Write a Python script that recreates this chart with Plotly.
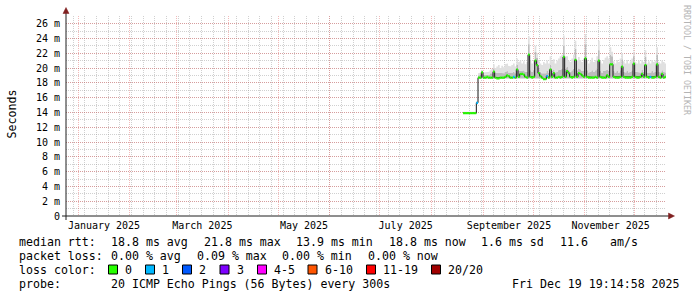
import plotly.graph_objects as go
import pandas as pd

# ---------------- data ----------------
first_day = "2025-08-20"   # one value per day, Aug 20 .. Dec 19 2025

median_ms = [
    13.9, 13.9, 13.9, 13.9, 13.9, 13.9, 13.9, 13.9,
    15.3, 18.7, 18.7, 19.4, 18.7, 18.7, 18.8, 18.7, 18.7, 18.7,
    19.5, 18.7, 18.6, 18.6, 18.7, 18.7, 18.7, 18.8, 19.0, 18.9,
    18.7, 18.7, 18.8, 18.7, 19.8, 18.8, 19.2, 19.2, 19.1, 18.8,
    18.7, 21.8, 18.8, 18.7, 18.8, 21.0, 20.4, 19.3, 18.9, 18.7,
    18.5, 18.5, 18.9, 18.7, 19.8, 18.8, 19.3, 18.7, 18.7, 18.8,
    18.7, 18.8, 21.5, 18.8, 19.6, 19.3, 18.8, 18.7, 18.8, 21.1,
    18.8, 19.3, 19.2, 19.0, 18.8, 21.3, 18.8, 18.7, 18.7, 18.7,
    18.7, 18.8, 18.7, 21.0, 18.8, 18.7, 18.7, 18.7, 19.0, 18.8,
    20.5, 20.5, 18.8, 18.7, 18.7, 18.7, 18.8, 20.2, 18.8, 18.7,
    18.7, 18.7, 18.7, 18.8, 20.6, 18.8, 18.7, 18.7, 18.8, 19.2,
    18.8, 20.4, 18.8, 18.7, 18.8, 18.7, 18.7, 18.8, 20.5, 18.8,
    18.7, 19.2, 18.7, 18.8,
]

lost_pings = [
    0, 0, 0, 0, 0, 0, 0, 0,
    1, 0, 0, 0, 0, 0, 0, 0, 0, 0,
    0, 0, 0, 0, 0, 0, 0, 0, 0, 0,
    0, 0, 1, 0, 0, 0, 0, 0, 0, 0,
    0, 0, 0, 0, 0, 0, 0, 0, 0, 0,
    0, 0, 1, 0, 0, 0, 0, 0, 0, 0,
    0, 0, 0, 0, 0, 0, 0, 0, 0, 0,
    0, 0, 0, 0, 0, 0, 0, 0, 0, 0,
    0, 0, 0, 0, 0, 0, 0, 0, 0, 0,
    0, 0, 0, 0, 0, 0, 0, 0, 0, 0,
    0, 0, 0, 0, 0, 0, 0, 0, 0, 0,
    0, 0, 0, 0, 1, 0, 0, 0, 0, 0,
    0, 0, 0, 0,
]

smoke_lo = [
    13.8, 13.8, 13.8, 13.8, 13.8, 13.8, 13.8, 13.8,
    15.1, 18.6, 18.6, 18.6, 18.6, 18.6, 18.6, 18.6, 18.6, 18.6,
    18.6, 18.6, 18.5, 18.5, 18.6, 18.6, 18.6, 18.6, 18.6, 18.6,
    18.6, 18.6, 18.6, 18.6, 18.6, 18.6, 18.6, 18.6, 18.6, 18.6,
    18.6, 18.6, 18.6, 18.6, 18.6, 18.6, 18.6, 18.6, 18.6, 18.6,
    18.4, 18.4, 18.6, 18.6, 18.6, 18.6, 18.6, 18.6, 18.6, 18.6,
    18.6, 18.6, 18.6, 18.6, 18.6, 18.6, 18.6, 18.6, 18.6, 18.6,
    18.6, 18.6, 18.6, 18.6, 18.6, 18.6, 18.6, 18.6, 18.6, 18.6,
    18.6, 18.6, 18.6, 18.6, 18.6, 18.6, 18.6, 18.6, 18.6, 18.6,
    18.6, 18.6, 18.6, 18.6, 18.6, 18.6, 18.6, 18.6, 18.6, 18.6,
    18.6, 18.6, 18.6, 18.6, 18.6, 18.6, 18.6, 18.6, 18.6, 18.6,
    18.6, 18.6, 18.6, 18.6, 18.6, 18.6, 18.6, 18.6, 18.6, 18.6,
    18.6, 18.6, 18.6, 18.6,
]

smoke_mid = [
    14.0, 14.0, 14.0, 14.0, 14.0, 14.0, 14.0, 14.0,
    15.4, 19.0, 19.1, 19.6, 19.1, 19.2, 19.2, 19.1, 19.3, 19.3,
    19.9, 19.4, 19.3, 19.4, 19.3, 19.4, 19.3, 19.5, 19.6, 19.4,
    19.3, 19.4, 19.5, 19.3, 20.4, 19.6, 19.7, 19.6, 19.7, 19.5,
    19.5, 23.2, 19.7, 19.5, 19.7, 22.2, 21.4, 20.0, 19.5, 19.3,
    19.4, 19.3, 19.6, 19.4, 20.4, 19.6, 19.8, 19.4, 19.5, 19.7,
    19.8, 19.9, 23.0, 19.9, 20.2, 19.8, 19.5, 19.7, 19.9, 22.6,
    19.7, 19.9, 19.8, 19.6, 19.7, 23.2, 19.7, 19.4, 19.5, 19.7,
    19.5, 19.7, 19.9, 22.4, 19.6, 19.4, 19.6, 19.7, 19.8, 19.6,
    21.8, 21.6, 19.6, 19.4, 19.6, 19.4, 19.7, 21.2, 19.5, 19.4,
    19.6, 19.4, 19.5, 19.7, 21.6, 19.5, 19.4, 19.5, 19.4, 19.8,
    19.5, 21.5, 19.4, 19.5, 19.4, 19.6, 19.4, 19.5, 21.8, 19.5,
    19.4, 19.7, 19.5, 19.4,
]

smoke_hi = [
    14.1, 14.1, 14.1, 14.1, 14.1, 14.1, 14.1, 14.1,
    15.5, 19.3, 19.4, 19.7, 19.4, 19.5, 19.5, 19.5, 19.7, 19.9,
    20.5, 20.0, 20.2, 20.4, 20.0, 20.3, 20.1, 20.5, 20.6, 20.3,
    20.2, 20.4, 20.6, 20.2, 21.3, 20.8, 21.0, 20.6, 20.9, 20.5,
    20.8, 24.3, 21.0, 20.6, 21.0, 23.0, 22.0, 21.0, 20.6, 20.4,
    20.8, 20.6, 21.0, 20.6, 21.6, 20.9, 21.2, 20.6, 21.0, 21.3,
    21.6, 21.8, 24.4, 21.6, 21.6, 21.0, 20.8, 21.3, 21.8, 23.7,
    21.0, 21.5, 21.1, 20.8, 21.3, 24.6, 21.1, 20.6, 20.9, 21.4,
    20.8, 21.1, 21.6, 23.7, 20.9, 20.6, 21.1, 21.4, 21.6, 21.3,
    22.8, 22.2, 20.9, 20.6, 21.1, 20.8, 21.3, 22.0, 20.9, 20.6,
    21.1, 20.6, 20.9, 21.3, 22.2, 20.8, 20.6, 21.0, 20.6, 21.1,
    20.8, 22.4, 20.6, 20.9, 20.6, 21.1, 20.8, 21.0, 22.8, 20.8,
    20.6, 21.0, 20.8, 20.6,
]

loss_classes = [(0, 0, "0", "#26ff00"), (1, 1, "1", "#00b8ff"), (2, 2, "2", "#0059ff"),
                (3, 3, "3", "#7e00ff"), (4, 5, "4-5", "#ff00ff"), (6, 10, "6-10", "#ff5500"),
                (11, 19, "11-19", "#ff0000"), (20, 20, "20/20", "#a10000")]

month_starts = ["2025-%02d-01" % m for m in range(1, 13)]
month_labels = ["January 2025", "", "March 2025", "", "May 2025", "", "July 2025", "",
                "September 2025", "", "November 2025", ""]
y_ticks = [0, 2, 4, 6, 8, 10, 12, 14, 16, 18, 20, 22, 24, 26]
y_ticktext = ["0"] + ["%d m" % v for v in y_ticks[1:]]

view_start = "2024-12-24 19:15"
view_end = "2025-12-19 19:15"
y_top = 27.03

legend_rows = [
    ["median rtt:", "18.8 ms avg", "21.8 ms max", "13.9 ms min", "18.8 ms now",
     "1.6 ms sd", "11.6", "am/s"],
    ["packet loss:", "0.00 % avg", "0.09 % max", "0.00 % min", "0.00 % now"],
]
probe_text = "20 ICMP Echo Pings (56 Bytes) every 300s"
stamp_text = "Fri Dec 19 19:14:58 2025"

# ---------------- layout geometry (pixels) ----------------
W, H = 697, 297
L, T, PW, PH = 66, 16, 600, 200
MONO = "DejaVu Sans Mono"


def px(x):
    return (x - L) / PW


def py(y):
    return (T + PH - y) / PH


days = list(pd.date_range(first_day, periods=len(median_ms), freq="D"))
one_day = pd.Timedelta(days=1)


def steps(vals):
    xs, ys = [], []
    for t, v in zip(days, vals):
        xs += [t, t + one_day]
        ys += [v, v]
    return xs, ys


fig = go.Figure()

xl, yl = steps(smoke_lo)
xm, ym = steps(smoke_mid)
xh, yh = steps(smoke_hi)
fig.add_trace(go.Scatter(x=xl, y=yl, mode="lines", line=dict(width=0),
                         hoverinfo="skip", showlegend=False))
fig.add_trace(go.Scatter(x=xm, y=ym, mode="lines", line=dict(width=0), fill="tonexty",
                         fillcolor="#bcbcbc", hoverinfo="skip", showlegend=False))
fig.add_trace(go.Scatter(x=xh, y=yh, mode="lines", line=dict(width=0), fill="tonexty",
                         fillcolor="#e0e0e0", hoverinfo="skip", showlegend=False))

xmed, ymed = steps(median_ms)
fig.add_trace(go.Scatter(x=xmed, y=ymed, mode="lines", line=dict(width=1, color="#161616"),
                         hoverinfo="skip", showlegend=False))

for lo, hi, name, col in loss_classes:
    sx, sy = [], []
    for t, v, ls in zip(days, median_ms, lost_pings):
        if lo <= ls <= hi:
            sx += [t, t + one_day, None]
            sy += [v, v, None]
    if sx:
        fig.add_trace(go.Scatter(x=sx, y=sy, mode="lines", line=dict(width=2.2, color=col),
                                 hoverinfo="skip", showlegend=False))

grid_red = "rgba(222,79,79,0.4)"
grid_gray = "rgba(143,143,143,0.42)"

fig.update_layout(
    width=W, height=H,
    margin=dict(l=L, r=W - L - PW, t=T, b=H - T - PH, pad=0),
    paper_bgcolor="white", plot_bgcolor="white",
    showlegend=False,
    font=dict(family=MONO, size=10, color="black"),
    xaxis=dict(
        type="date", range=[view_start, view_end],
        tickmode="array", tickvals=month_starts, ticktext=month_labels,
        ticklabelshift=26, ticks="", ticklabelstandoff=2,
        showgrid=True, gridcolor=grid_red, griddash="1px,1px", gridwidth=1,
        minor=dict(dtick=7 * 86400000, tick0="2024-12-29", showgrid=True,
                   gridcolor=grid_gray, griddash="1px,1px", gridwidth=1),
        zeroline=False, showline=False,
        tickfont=dict(family=MONO, size=10, color="black"),
    ),
    yaxis=dict(
        range=[0, y_top], tickmode="array", tickvals=y_ticks, ticktext=y_ticktext,
        ticks="", ticklabelstandoff=5,
        showgrid=True, gridcolor=grid_red, griddash="1px,1px", gridwidth=1,
        minor=dict(dtick=1, tick0=0, showgrid=True, gridcolor=grid_gray,
                   griddash="1px,1px", gridwidth=1),
        zeroline=False, showline=False,
        tickfont=dict(family=MONO, size=10, color="black"),
    ),
)

shapes = []
# axes lines with arrows
shapes.append(dict(type="line", xref="paper", yref="paper", x0=px(62), x1=px(669),
                   y0=py(216), y1=py(216), line=dict(color="#1f1f1f", width=1)))
shapes.append(dict(type="line", xref="paper", yref="paper", x0=px(66), x1=px(66),
                   y0=py(220), y1=py(12), line=dict(color="#1f1f1f", width=1)))
shapes.append(dict(type="path", xref="paper", yref="paper",
                   path="M %f %f L %f %f L %f %f Z" % (px(66), py(7.5), px(63), py(13.5), px(69), py(13.5)),
                   fillcolor="#802020", line=dict(color="#802020", width=0.5)))
shapes.append(dict(type="path", xref="paper", yref="paper",
                   path="M %f %f L %f %f L %f %f Z" % (px(674.5), py(216), px(668.5), py(213), px(668.5), py(219)),
                   fillcolor="#802020", line=dict(color="#802020", width=0.5)))

annotations = []
LEG_FONT = dict(family=MONO, size=11.6, color="black")


def label(x, y, text, anchor="left", **kw):
    annotations.append(dict(xref="paper", yref="paper", x=px(x), y=py(y), text=text,
                            showarrow=False, xanchor=anchor, yanchor="middle",
                            font=kw.get("font", LEG_FONT), textangle=kw.get("angle", 0)))


row1_x = [16.5, 109, 201.5, 294, 386.5, 479, 557.5, 607.5]
for x, s in zip(row1_x, legend_rows[0]):
    label(x, 241.5, s.replace(" ", "&nbsp;"))
row2_x = [16.5, 109, 194.5, 280, 365.5]
for x, s in zip(row2_x, legend_rows[1]):
    label(x, 255.5, s.replace(" ", "&nbsp;"))

label(16.5, 269.5, "loss&nbsp;color:")
box_x = [108.5, 145.5, 182.5, 220, 257.5, 308, 366.5, 431.5]
for bx, (lo, hi, name, col) in zip(box_x, loss_classes):
    shapes.append(dict(type="rect", xref="paper", yref="paper", x0=px(bx), x1=px(bx + 9),
                       y0=py(274), y1=py(265), fillcolor=col, line=dict(color="black", width=1)))
    label(bx + 14.5, 269.5, name)

label(16.5, 283.5, "probe:")
label(109, 283.5, probe_text.replace(" ", "&nbsp;"))
label(681.5, 283.5, stamp_text.replace(" ", "&nbsp;"), anchor="right")

label(11.5, 114, "Seconds", angle=-90, font=dict(family=MONO, size=11.6, color="black"))
annotations[-1]["xanchor"] = "center"
label(687, 60, "RRDTOOL&nbsp;/&nbsp;TOBI&nbsp;OETIKER", angle=90,
      font=dict(family=MONO, size=8.3, color="#b4b4b4"))
annotations[-1]["xanchor"] = "center"

fig.update_layout(shapes=shapes, annotations=annotations)
fig.write_html("out.html")
